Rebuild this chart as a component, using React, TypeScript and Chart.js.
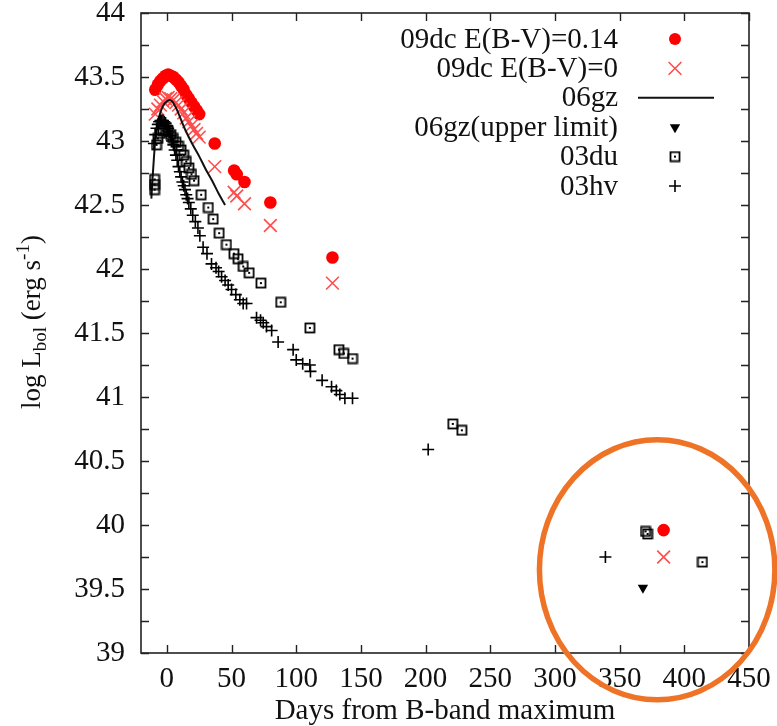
import React, { useEffect, useRef } from "react";
import { Chart, registerables } from "chart.js";

Chart.register(...registerables);

const SERIF = "'Liberation Serif', 'Times New Roman', serif";
const FONT_SIZE = 29;
Chart.defaults.font.family = SERIF;

// Axis ranges and tick positions
const xMin = -20;
const xMax = 450;
const yMin = 39;
const yMax = 44;
const xTicks = [0, 50, 100, 150, 200, 250, 300, 350, 400, 450];
const yMajorTicks = [39, 39.5, 40, 40.5, 41, 41.5, 42, 42.5, 43, 43.5, 44];
const yMinorTicks = [39.25, 39.75, 40.25, 40.75, 41.25, 41.75, 42.25, 42.75, 43.25, 43.75];

// Series names, in legend order
const seriesLabels = [
  "09dc E(B-V)=0.14",
  "09dc E(B-V)=0",
  "06gz",
  "06gz(upper limit)",
  "03du",
  "03hv",
];

// SN 2009dc, corrected for E(B-V)=0.14
const dc09RedDays = [-9, -7, -5, -3, -1, 1, 3, 5, 7, 9, 11, 13, 15, 17, 19, 21, 23, 25, 37, 52, 54, 60, 80, 128, 384];
const dc09RedLum = [43.40, 43.44, 43.47, 43.49, 43.51, 43.52, 43.51, 43.50, 43.48, 43.46, 43.43, 43.40, 43.36, 43.33, 43.30, 43.27, 43.24, 43.21, 42.98, 42.77, 42.74, 42.68, 42.52, 42.09, 39.96];

// SN 2009dc, no reddening correction
const dc09Days = [-9, -7, -5, -3, -1, 1, 3, 5, 7, 9, 11, 13, 15, 17, 19, 21, 23, 25, 37, 52, 54, 60, 80, 128, 384];
const dc09Lum = [43.21, 43.25, 43.28, 43.31, 43.33, 43.34, 43.33, 43.32, 43.30, 43.28, 43.25, 43.22, 43.18, 43.15, 43.12, 43.09, 43.06, 43.03, 42.80, 42.60, 42.57, 42.51, 42.34, 41.89, 39.75];

// SN 2006gz light curve
const gz06Days = [-12, -11, -10, -9, -8, -6, -4, -2, 0, 2, 4, 6, 8, 10, 12, 15, 20, 25, 30, 35, 40, 45];
const gz06Lum = [42.55, 42.72, 42.87, 43.0, 43.09, 43.19, 43.25, 43.29, 43.31, 43.32, 43.31, 43.28, 43.24, 43.19, 43.14, 43.07, 42.97, 42.88, 42.78, 42.69, 42.59, 42.5];

// SN 2006gz late-time upper limit
const gz06LimitDays = [368];
const gz06LimitLum = [39.51];

// SN 2003du
const du03Days = [-9.5, -9.5, -9.5, -8, -7, -5, -3, -1, 1, 3, 5, 7, 9, 11, 13, 15, 17, 19, 21, 26.5, 32, 35.8, 40.4, 46, 51.8, 55, 59, 63.6, 72.7, 88, 110.5, 133, 136.8, 143.5, 221, 228, 370, 371.6, 414];
const du03Lum = [42.62, 42.66, 42.70, 42.97, 43.02, 43.06, 43.08, 43.09, 43.08, 43.05, 43.02, 42.99, 42.96, 42.93, 42.89, 42.84, 42.79, 42.74, 42.69, 42.58, 42.48, 42.39, 42.28, 42.19, 42.12, 42.08, 42.02, 41.97, 41.89, 41.74, 41.54, 41.37, 41.34, 41.30, 40.79, 40.74, 39.95, 39.93, 39.71];

// SN 2003hv
const hv03Days = [-10, -9, -8, -7, -6, -5, -4, -3, -2, -1, 0, 1, 2, 3, 4, 5, 6, 7, 8, 9, 10, 11, 12, 13, 14, 15, 16, 17, 18.5, 20, 22, 24, 25.5, 28, 31, 34.5, 38, 40, 42.3, 45, 47.4, 50, 53.3, 56.4, 59, 61.6, 69.3, 72.4, 74.5, 77, 81, 86, 97.6, 100, 105, 110.5, 111, 120, 127.3, 131, 133.7, 137.6, 143.5, 202, 339];
const hv03Lum = [42.98, 43.05, 43.10, 43.13, 43.15, 43.16, 43.16, 43.16, 43.15, 43.14, 43.12, 43.10, 43.07, 43.04, 43.00, 42.97, 42.93, 42.89, 42.85, 42.80, 42.76, 42.72, 42.68, 42.65, 42.62, 42.58, 42.55, 42.52, 42.47, 42.42, 42.37, 42.32, 42.26, 42.17, 42.12, 42.04, 42.01, 41.98, 41.94, 41.91, 41.875, 41.84, 41.80, 41.76, 41.73, 41.73, 41.62, 41.60, 41.58, 41.55, 41.52, 41.43, 41.37, 41.29, 41.26, 41.25, 41.20, 41.13, 41.08, 41.05, 41.02, 40.99, 40.99, 40.59, 39.75];

// Highlight ring around the nebular-phase points (data units)
const ringCenterDay = 379;
const ringCenterLum = 39.65;
const ringHalfWidthDays = 91;
const ringHalfHeightLum = 1.016;

const pairs = (xs: number[], ys: number[]) => xs.map((x, i) => ({ x, y: ys[i] }));

function makeDottedSquare(): HTMLCanvasElement {
  const c = document.createElement("canvas");
  c.width = 12;
  c.height = 12;
  const g = c.getContext("2d")!;
  g.strokeStyle = "#000";
  g.lineWidth = 1.8;
  g.strokeRect(1.5, 1.5, 9, 9);
  g.fillStyle = "#000";
  g.fillRect(5, 5, 2, 2);
  return c;
}

export default function App() {
  const canvasRef = useRef<HTMLCanvasElement | null>(null);

  useEffect(() => {
    document.body.style.margin = "0";
    const canvas = canvasRef.current;
    if (!canvas) return;
    const square = makeDottedSquare();

    const framePlugin = {
      id: "frameTicks",
      afterDatasetsDraw(chart: any) {
        const { ctx, chartArea: a, scales } = chart;
        const x = scales.x;
        const y = scales.y;
        ctx.save();
        ctx.strokeStyle = "#222";
        ctx.lineWidth = 1.6;
        ctx.strokeRect(a.left, a.top, a.right - a.left, a.bottom - a.top);
        ctx.beginPath();
        for (const v of xTicks) {
          const px = Math.round(x.getPixelForValue(v)) + 0.5;
          ctx.moveTo(px, a.bottom);
          ctx.lineTo(px, a.bottom - 8);
          ctx.moveTo(px, a.top);
          ctx.lineTo(px, a.top + 8);
        }
        for (const v of [...yMajorTicks, ...yMinorTicks]) {
          const py = Math.round(y.getPixelForValue(v)) + 0.5;
          ctx.moveTo(a.left, py);
          ctx.lineTo(a.left + 8, py);
          ctx.moveTo(a.right, py);
          ctx.lineTo(a.right - 8, py);
        }
        ctx.lineWidth = 1.4;
        ctx.stroke();
        ctx.restore();
      },
    };

    const yTitlePlugin = {
      id: "yTitle",
      afterDraw(chart: any) {
        const { ctx, chartArea: a } = chart;
        const big = `27px ${SERIF}`;
        const small = `19px ${SERIF}`;
        const parts = [
          { t: "log L", f: big, dy: 0 },
          { t: "bol", f: small, dy: 6 },
          { t: " (erg s", f: big, dy: 0 },
          { t: "-1", f: small, dy: -11 },
          { t: ")", f: big, dy: 0 },
        ];
        ctx.save();
        let total = 0;
        const widths = parts.map((p) => {
          ctx.font = p.f;
          const w = ctx.measureText(p.t).width;
          total += w;
          return w;
        });
        ctx.translate(40, (a.top + a.bottom) / 2 - 11);
        ctx.rotate(-Math.PI / 2);
        ctx.fillStyle = "#111";
        ctx.textBaseline = "alphabetic";
        let cx = -total / 2;
        parts.forEach((p, i) => {
          ctx.font = p.f;
          ctx.fillText(p.t, cx, p.dy);
          cx += widths[i];
        });
        ctx.restore();
      },
    };

    const legendPlugin = {
      id: "keyBox",
      afterDraw(chart: any) {
        const { ctx } = chart;
        const textRight = 618;
        const mx = 675;
        const top = 39;
        const step = 29.4;
        ctx.save();
        ctx.font = `${FONT_SIZE}px ${SERIF}`;
        ctx.textAlign = "right";
        ctx.textBaseline = "middle";
        ctx.fillStyle = "#111";
        seriesLabels.forEach((label, i) => {
          const ly = top + i * step;
          ctx.fillText(label, textRight, ly + 1);
          if (i === 0) {
            ctx.fillStyle = "#ff0000";
            ctx.beginPath();
            ctx.arc(mx, ly, 6, 0, Math.PI * 2);
            ctx.fill();
            ctx.fillStyle = "#111";
          } else if (i === 1) {
            ctx.strokeStyle = "#ff4d4d";
            ctx.lineWidth = 1.6;
            ctx.beginPath();
            ctx.moveTo(mx - 6.4, ly - 6.4);
            ctx.lineTo(mx + 6.4, ly + 6.4);
            ctx.moveTo(mx - 6.4, ly + 6.4);
            ctx.lineTo(mx + 6.4, ly - 6.4);
            ctx.stroke();
          } else if (i === 2) {
            ctx.strokeStyle = "#111";
            ctx.lineWidth = 2;
            ctx.beginPath();
            ctx.moveTo(638, ly);
            ctx.lineTo(714, ly);
            ctx.stroke();
          } else if (i === 3) {
            ctx.fillStyle = "#000";
            ctx.beginPath();
            ctx.moveTo(mx - 5.2, ly - 3);
            ctx.lineTo(mx + 5.2, ly - 3);
            ctx.lineTo(mx, ly + 6);
            ctx.closePath();
            ctx.fill();
            ctx.fillStyle = "#111";
          } else if (i === 4) {
            ctx.drawImage(square, mx - 6, ly - 6);
          } else {
            ctx.strokeStyle = "#000";
            ctx.lineWidth = 1.6;
            ctx.beginPath();
            ctx.moveTo(mx - 6, ly);
            ctx.lineTo(mx + 6, ly);
            ctx.moveTo(mx, ly - 6);
            ctx.lineTo(mx, ly + 6);
            ctx.stroke();
          }
        });
        ctx.restore();
      },
    };

    const ringPlugin = {
      id: "ring",
      afterDraw(chart: any) {
        const { ctx, scales } = chart;
        const x = scales.x;
        const y = scales.y;
        const cx = x.getPixelForValue(ringCenterDay);
        const cy = y.getPixelForValue(ringCenterLum);
        const rx = Math.abs(x.getPixelForValue(ringCenterDay + ringHalfWidthDays) - cx);
        const ry = Math.abs(y.getPixelForValue(ringCenterLum + ringHalfHeightLum) - cy);
        ctx.save();
        ctx.strokeStyle = "#ee7326";
        ctx.lineWidth = 5.5;
        ctx.beginPath();
        ctx.ellipse(cx, cy, rx, ry, 0, 0, Math.PI * 2);
        ctx.stroke();
        ctx.restore();
      },
    };

    const chart = new Chart(canvas, {
      type: "scatter",
      data: {
        datasets: [
          {
            label: seriesLabels[0],
            data: pairs(dc09RedDays, dc09RedLum),
            pointStyle: "circle",
            pointRadius: 6.3,
            backgroundColor: "#ff0000",
            borderColor: "#ff0000",
            borderWidth: 0,
            order: 6,
          },
          {
            label: seriesLabels[1],
            data: pairs(dc09Days, dc09Lum),
            pointStyle: "crossRot",
            pointRadius: 9,
            borderColor: "#ff4d4d",
            backgroundColor: "#ff4d4d",
            borderWidth: 1.6,
            order: 5,
          },
          {
            label: seriesLabels[2],
            data: pairs(gz06Days, gz06Lum),
            showLine: true,
            pointRadius: 0,
            borderColor: "#111",
            borderWidth: 2,
            cubicInterpolationMode: "monotone",
            order: 4,
          },
          {
            label: seriesLabels[3],
            data: pairs(gz06LimitDays, gz06LimitLum),
            pointStyle: "triangle",
            rotation: 180,
            pointRadius: 6,
            backgroundColor: "#000",
            borderColor: "#000",
            borderWidth: 0,
            order: 3,
          },
          {
            label: seriesLabels[4],
            data: pairs(du03Days, du03Lum),
            pointStyle: square,
            pointRadius: 6,
            order: 2,
          },
          {
            label: seriesLabels[5],
            data: pairs(hv03Days, hv03Lum),
            pointStyle: "cross",
            pointRadius: 6,
            borderColor: "#000",
            borderWidth: 1.6,
            order: 1,
          },
        ] as any,
      },
      options: {
        animation: false,
        responsive: false,
        devicePixelRatio: 1,
        events: [],
        layout: { padding: { top: 13, right: 28, bottom: 0, left: 0 } },
        plugins: {
          legend: { display: false },
          tooltip: { enabled: false },
        },
        scales: {
          x: {
            type: "linear",
            min: xMin,
            max: xMax,
            afterBuildTicks: (s: any) => {
              s.ticks = xTicks.map((value) => ({ value }));
            },
            afterFit: (s: any) => {
              s.height = 73;
              s.paddingLeft = 0;
              s.paddingRight = 0;
            },
            grid: { display: false, drawTicks: false },
            border: { display: false },
            ticks: {
              font: () => ({ family: "Liberation Serif", size: FONT_SIZE }),
              color: "#111",
              padding: 9,
              maxRotation: 0,
              autoSkip: false,
            },
            title: {
              display: true,
              text: "Days from B-band maximum",
              font: { family: SERIF, size: FONT_SIZE, lineHeight: 1 },
              color: "#111",
              padding: { top: 0, bottom: 0 },
            },
          },
          y: {
            type: "linear",
            min: yMin,
            max: yMax,
            afterBuildTicks: (s: any) => {
              s.ticks = [...yMajorTicks, ...yMinorTicks]
                .sort((a, b) => a - b)
                .map((value) => ({ value }));
            },
            afterFit: (s: any) => {
              s.width = 141;
              s.paddingTop = 0;
              s.paddingBottom = 0;
            },
            grid: { display: false, drawTicks: false },
            border: { display: false },
            ticks: {
              font: () => ({ family: "Liberation Serif", size: FONT_SIZE }),
              color: "#111",
              padding: 16,
              autoSkip: false,
              callback: (v: any) => (yMajorTicks.includes(Number(v)) ? String(v) : ""),
            },
          },
        },
      } as any,
      plugins: [framePlugin, yTitlePlugin, legendPlugin, ringPlugin],
    });

    return () => chart.destroy();
  }, []);

  return (
    <div style={{ width: 777, height: 726 }}>
      <canvas ref={canvasRef} width={777} height={726} style={{ display: "block" }} />
    </div>
  );
}
